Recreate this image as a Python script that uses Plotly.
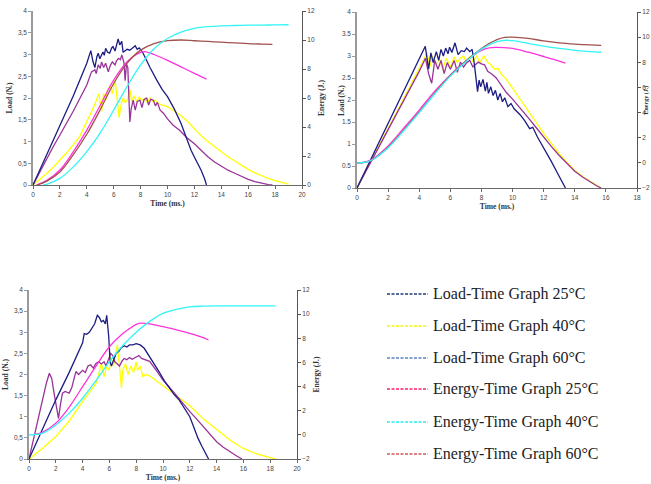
import plotly.graph_objects as go

# ---------------- data ----------------
# Plot 1 (top-left)
P1_NAVY_T = [0,1,2,3,4,4.3,4.45,4.6,4.75,4.85,4.97,5.1,5.2,5.3,5.4,5.55,5.7,5.85,5.95,6.1,6.2,6.33,6.45,6.6,6.7,6.85,7.0,7.2,7.4,7.6,7.75,7.9,8.15,8.3,8.7,9.2,9.6,10.0,10.5,11.0,11.4,11.75,12.1,12.5,12.75,12.9]
P1_NAVY_L = [0,0.68,1.36,2.05,2.8,3.09,2.85,2.7,2.95,3.03,2.9,3.0,3.06,2.98,3.14,3.05,3.03,3.15,3.18,3.08,3.2,3.36,3.22,3.3,3.05,3.08,3.12,3.1,3.16,3.2,3.12,3.15,3.05,2.95,2.7,2.41,2.2,2.03,1.75,1.42,1.1,0.8,0.58,0.34,0.15,0.0]

P1_PURP_T = [0,0.5,1,1.5,2,2.5,3,3.5,4,4.35,4.6,4.7,4.85,5.0,5.1,5.25,5.4,5.6,5.75,5.9,6.1,6.2,6.35,6.5,6.6,6.77,6.85,6.95,7.05,7.2,7.3,7.45,7.6,7.75,7.95,8.1,8.25,8.45,8.6,8.75,8.95,9.1,9.25,9.45,9.7,10.0,10.4,10.9,11.4,12.0,12.5,13.0,13.5,14.0,14.5,15.0,15.5,16.0,16.5,17.0,17.5,17.8]
P1_PURP_L = [0,0.3,0.6,0.88,1.15,1.42,1.7,2.0,2.3,2.6,2.65,2.56,2.76,2.68,2.83,2.7,2.8,2.6,2.75,2.83,2.76,2.85,2.91,2.88,2.99,2.8,2.4,2.78,2.7,1.45,1.75,1.95,1.72,1.92,1.95,1.78,1.96,2.0,1.84,1.97,1.95,1.82,1.9,1.72,1.65,1.52,1.38,1.26,1.1,0.95,0.8,0.65,0.53,0.43,0.34,0.27,0.2,0.13,0.08,0.04,0.01,0.0]

P1_YELL_T = [0,0.5,1,1.5,2,2.5,3,3.5,4,4.5,4.9,5.1,5.25,5.4,5.55,5.75,5.9,6.1,6.25,6.4,6.55,6.7,6.85,7.0,7.2,7.35,7.5,7.7,7.9,8.1,8.3,8.5,8.7,8.9,9.1,9.3,9.5,10.0,10.5,11.0,11.5,12.0,12.5,13.0,13.5,14.0,14.5,15.0,15.5,16.0,16.5,17.0,17.5,18.0,18.5,19.0]
P1_YELL_L = [0,0.12,0.26,0.41,0.57,0.74,0.93,1.13,1.46,1.78,2.1,1.69,2.1,1.95,2.2,2.26,2.1,2.41,2.0,1.55,1.85,2.0,1.9,1.95,2.2,1.9,2.05,1.92,2.02,1.95,1.98,1.9,2.0,1.92,1.95,1.88,1.85,1.8,1.7,1.6,1.46,1.3,1.13,1.0,0.88,0.76,0.65,0.55,0.45,0.36,0.28,0.21,0.15,0.1,0.06,0.02]

P1_MAG_T = [0.25,1,2,3,4,5,6,7,7.5,8,8.3,9,10,11,12,12.9]
P1_MAG_E = [0,0.3,1.03,2.3,3.79,5.5,7.24,8.5,8.9,9.15,9.2,9.0,8.6,8.15,7.7,7.3]
P1_BRN_T = [0.3,1,2,3,4,5,6,7,8,9,10,11,12,13,14,15,16,17,17.8]
P1_BRN_E = [0,0.25,0.9,2.1,3.5,5.2,7.0,8.4,9.3,9.75,9.95,10.0,9.95,9.9,9.85,9.8,9.75,9.72,9.7]
P1_CYN_T = [0.75,1,2,3,4,5,6,7,8,9,10,11,12,13,14,15,16,17,18,19]
P1_CYN_E = [0,0.05,0.46,1.25,2.3,3.6,5.17,6.8,8.28,9.4,10.1,10.55,10.8,10.92,10.98,11.0,11.02,11.03,11.04,11.05]

# Plot 2 (top-right)
P2_NAVY_T = [0,1,2,3,4,4.39,4.6,4.75,4.9,5.1,5.25,5.4,5.55,5.7,5.85,5.95,6.1,6.3,6.5,6.7,6.9,7.05,7.25,7.4,7.55,7.75,7.85,7.95,8.1,8.25,8.35,8.45,8.6,8.75,8.9,9.05,9.2,9.35,9.5,9.7,9.9,10.1,10.5,10.8,11.1,11.3,11.6,11.9,12.2,12.5,12.9,13.2,13.4]
P2_NAVY_L = [0,0.73,1.46,2.2,2.93,3.22,2.7,3.07,2.85,3.1,2.9,3.15,3.0,3.18,3.05,3.2,3.08,3.3,3.03,3.12,3.1,3.18,3.1,3.15,2.8,2.19,2.45,2.3,2.47,2.2,2.4,2.15,2.3,2.1,2.22,2.0,2.15,1.96,2.05,1.85,1.92,1.8,1.66,1.52,1.35,1.38,1.16,0.98,0.78,0.6,0.33,0.12,0.0]

P2_YELL_T = [0,1,2,3,4,4.5,4.7,4.85,5.1,5.3,5.5,5.75,6.0,6.25,6.45,6.65,6.85,7.05,7.25,7.45,7.7,7.9,8.15,8.4,8.6,8.85,9.05,9.3,9.6,10,10.5,11,11.5,12,12.5,13,13.5,14,14.5,15,15.4,15.7]
P2_YELL_L = [0,0.67,1.35,2.03,2.72,3.07,2.76,3.0,2.8,2.95,2.7,2.95,2.75,2.98,2.85,2.95,3.0,2.85,3.0,2.88,3.0,2.85,3.0,2.86,2.8,2.7,2.72,2.58,2.47,2.27,2.02,1.77,1.5,1.24,1.0,0.78,0.58,0.4,0.26,0.14,0.06,0.0]

P2_PURP_T = [0,1,2,3,4,4.4,4.6,4.8,5.0,5.2,5.4,5.6,5.8,6.0,6.25,6.45,6.65,6.85,7.05,7.25,7.45,7.6,7.8,8.0,8.2,8.4,8.7,8.95,9.3,9.6,10,10.5,11,11.5,12,12.5,13,13.5,14,14.5,15,15.4,15.7]
P2_PURP_L = [0,0.66,1.32,1.98,2.65,2.95,2.6,2.38,2.9,2.7,2.9,2.6,2.85,2.7,2.9,2.63,2.86,2.75,2.85,2.9,2.75,2.8,2.86,2.82,2.8,2.65,2.58,2.5,2.33,2.17,2.02,1.82,1.6,1.38,1.15,0.94,0.74,0.56,0.38,0.25,0.13,0.05,0.0]

P2_MAG_T = [0,0.5,1,2,3,4,5,6,7,8,8.5,9,10,11,12,13,13.4]
P2_MAG_E = [0,0.05,0.3,1.35,2.75,4.2,5.7,7.0,8.1,8.95,9.15,9.18,9.1,8.8,8.46,8.1,7.93]
P2_BRN_T = [0,0.5,1,2,3,4,5,6,7,8,9,9.5,10,11,12,13,14,15,15.7]
P2_BRN_E = [0,0.04,0.25,1.25,2.6,4.05,5.55,6.95,8.1,9.1,9.8,9.98,10.0,9.9,9.7,9.55,9.45,9.38,9.35]
P2_CYN_T = [0,0.5,1,2,3,4,5,6,7,8,9,9.5,10,11,12,13,14,15,15.7]
P2_CYN_E = [0,0.04,0.25,1.2,2.55,4.0,5.5,6.9,8.05,9.05,9.65,9.75,9.72,9.5,9.28,9.1,8.95,8.85,8.8]

# Plot 3 (bottom-left)
P3_NAVY_T = [0,1,2,3,3.5,4,4.12,4.3,4.5,4.7,4.9,5.1,5.25,5.4,5.55,5.7,5.8,5.95,6.05,6.15,6.3,6.5,6.7,6.85,7.1,7.3,7.5,7.75,8.0,8.3,8.6,9.0,9.35,9.7,10.1,10.5,10.85,11.2,11.6,12.0,12.3,12.6,12.9,13.2,13.4]
P3_NAVY_L = [0,0.7,1.4,2.05,2.4,2.75,2.97,2.95,3.0,3.1,3.2,3.4,3.35,3.25,3.28,3.2,3.4,2.9,2.3,2.2,2.35,2.5,2.55,2.62,2.68,2.65,2.7,2.7,2.73,2.7,2.62,2.43,2.25,2.07,1.85,1.67,1.52,1.4,1.2,1.0,0.75,0.5,0.3,0.12,0.0]

P3_PURP_T = [0,0.5,1.0,1.3,1.52,1.7,1.9,2.2,2.35,2.5,2.7,3.0,3.2,3.5,3.7,4.0,4.2,4.4,4.6,4.8,5.0,5.2,5.4,5.6,5.75,5.95,6.1,6.25,6.4,6.6,6.75,6.95,7.1,7.3,7.5,7.7,8.0,8.2,8.4,8.7,9.0,9.5,10.0,10.75,11.5,12.0,12.5,13.0,13.5,14.0,14.5,15.0,15.5,15.9]
P3_PURP_L = [0,0.7,1.4,1.8,2.03,1.9,1.5,0.96,1.3,1.56,1.6,1.56,1.7,2.07,2.0,2.1,2.05,2.2,2.23,2.15,2.26,2.3,2.25,2.3,2.2,2.35,2.5,2.45,2.3,2.25,2.2,2.32,2.38,2.35,2.4,2.36,2.42,2.45,2.38,2.35,2.31,2.1,1.87,1.6,1.3,1.12,0.95,0.77,0.6,0.41,0.28,0.17,0.07,0.0]

P3_YELL_T = [0,1,2,3,4,4.5,5.0,5.2,5.4,5.6,5.8,6.0,6.1,6.3,6.5,6.6,6.75,6.9,7.0,7.2,7.4,7.6,7.8,8.0,8.1,8.3,8.5,8.7,9.0,9.5,10,11,12,13,14,15,16,17,18,18.4]
P3_YELL_L = [0,0.25,0.53,0.9,1.36,1.57,1.79,2.0,2.27,1.95,2.2,2.1,2.41,2.2,2.5,2.7,2.2,1.68,2.1,2.25,2.0,2.2,2.05,2.3,2.1,2.2,1.95,2.0,1.97,1.85,1.75,1.5,1.26,0.95,0.7,0.45,0.25,0.12,0.03,0.0]

P3_MAG_T = [0.5,1,2,3,4,5,6,7,7.5,8,8.3,9,10,11,12,13,13.4]
P3_MAG_E = [0.05,0.2,0.96,2.3,3.99,5.7,7.3,8.4,8.8,9.15,9.25,9.2,8.96,8.7,8.4,8.05,7.86]
P3_CYN_T = [0,0.5,1,2,3,4,5,6,7,8,9,10,11,12,13,14,15,16,17,18,18.4]
P3_CYN_E = [0.0,0.03,0.13,0.82,1.8,3.03,4.5,6.05,7.4,8.5,9.4,10.07,10.4,10.6,10.66,10.68,10.68,10.68,10.68,10.68,10.68]

# tick labels
LOAD_TICKS = [0,0.5,1,1.5,2,2.5,3,3.5,4]
LOAD_TEXT_COMMA = ["0","0,5","1","1,5","2","2,5","3","3,5","4"]
LOAD_TEXT_DOT = ["0","0.5","1","1.5","2","2.5","3","3.5","4"]

# legend (custom)
LEGEND_NAMES = ["Load-Time Graph 25°C","Load-Time Graph 40°C","Load-Time Graph 60°C",
                "Energy-Time Graph 25°C","Energy-Time Graph 40°C","Energy-Time Graph 60°C"]
LEGEND_COLORS = ["#1f3d7a","#f5f500","#5a82c8","#ff1f6e","#22eeee","#cc5a5a"]

# ---------------- styles ----------------
NAVY = "#1c1c84"
YELL = "#ffff00"
PURP = "#993399"
MAG = "#ff33dd"
BRN = "#a0524f"
CYN = "#33f5f5"

fig = go.Figure()

def add(t, v, color, xa, ya, smooth=False):
    fig.add_trace(go.Scatter(x=t, y=v, mode="lines", xaxis=xa, yaxis=ya,
                             line=dict(color=color, width=1.3,
                                       shape="spline" if smooth else "linear"),
                             showlegend=False, hoverinfo="skip"))

# plot 1
add(P1_MAG_T, P1_MAG_E, MAG, "x", "y2", True)
add(P1_BRN_T, P1_BRN_E, BRN, "x", "y2", True)
add(P1_CYN_T, P1_CYN_E, CYN, "x", "y2", True)
add(P1_YELL_T, P1_YELL_L, YELL, "x", "y")
add(P1_PURP_T, P1_PURP_L, PURP, "x", "y")
add(P1_NAVY_T, P1_NAVY_L, NAVY, "x", "y")
# plot 2
add(P2_MAG_T, P2_MAG_E, MAG, "x2", "y4", True)
add(P2_BRN_T, P2_BRN_E, BRN, "x2", "y4", True)
add(P2_CYN_T, P2_CYN_E, CYN, "x2", "y4", True)
add(P2_YELL_T, P2_YELL_L, YELL, "x2", "y3")
add(P2_PURP_T, P2_PURP_L, PURP, "x2", "y3")
add(P2_NAVY_T, P2_NAVY_L, NAVY, "x2", "y3")
# plot 3
add(P3_MAG_T, P3_MAG_E, MAG, "x3", "y6", True)
add(P3_CYN_T, P3_CYN_E, CYN, "x3", "y6", True)
add(P3_YELL_T, P3_YELL_L, YELL, "x3", "y5")
add(P3_PURP_T, P3_PURP_L, PURP, "x3", "y5")
add(P3_NAVY_T, P3_NAVY_L, NAVY, "x3", "y5")

W, H = 651, 484
def px(x): return x / W
def py(y): return 1 - y / H

TICKFONT = dict(family="Liberation Sans, Arial", size=6.5, color="#444444")
TITLEFONT = dict(family="Liberation Serif, Times New Roman", size=7.5, color="#333333")

def xax(domain, anchor, rng, title_standoff=3):
    return dict(domain=domain, anchor=anchor, range=rng, dtick=2, tick0=0,
                automargin=False,
                showline=True, linecolor="#6a6a6a", linewidth=1, ticks="outside",
                ticklen=3, tickcolor="#6a6a6a", tickfont=TICKFONT, showgrid=False,
                zeroline=False, title=dict(text="<b>Time (ms.)</b>", font=TITLEFONT,
                                           standoff=title_standoff))

def yleft(domain, anchor, ticktext, title="<b>Load (N.)</b>"):
    return dict(domain=domain, anchor=anchor, range=[0, 4], tickvals=LOAD_TICKS,
                automargin=False,
                ticktext=ticktext, showline=True, linecolor="#9a9a9a", linewidth=1.5,
                ticks="outside", ticklen=3, tickcolor="#9a9a9a", tickfont=TICKFONT,
                showgrid=False, zeroline=False,
                title=dict(text=title, font=TITLEFONT, standoff=4))

def yright(overlay, anchor, rng, title="<b>Energy (J.)</b>"):
    return dict(overlaying=overlay, anchor=anchor, side="right", range=rng, dtick=2,
                automargin=False,
                tick0=0, showline=True, linecolor="#555555", linewidth=1,
                ticks="outside", ticklen=3, tickcolor="#555555", tickfont=TICKFONT,
                showgrid=False, zeroline=False,
                title=dict(text=title, font=TITLEFONT, standoff=4))

shapes = []
annotations = []
LEG_ROWS = [294, 326, 358, 389, 422, 454]
for i, (name, col) in enumerate(zip(LEGEND_NAMES, LEGEND_COLORS)):
    y = py(LEG_ROWS[i])
    shapes.append(dict(type="line", xref="paper", yref="paper", x0=px(387), x1=px(428),
                       y0=y, y1=y, line=dict(color=col, width=1.5, dash="3px,1.5px")))
    annotations.append(dict(xref="paper", yref="paper", x=px(431), y=y, text=name,
                            showarrow=False, xanchor="left", yanchor="middle",
                            font=dict(family="Liberation Serif, Times New Roman",
                                      size=16, color="#222222")))

# plot 2 axis titles placed as annotations (kept inside the canvas)
annotations.append(dict(xref="paper", yref="paper", x=px(342), y=py(100),
                        text="<b>Load (N.)</b>", textangle=-90, showarrow=False,
                        xanchor="center", yanchor="middle", font=TITLEFONT))
annotations.append(dict(xref="paper", yref="paper", x=px(646.5), y=py(100),
                        text="<b>Energy (J.)</b>", textangle=-90, showarrow=False,
                        xanchor="center", yanchor="middle", borderpad=0,
                        font=dict(family="Liberation Serif, Times New Roman",
                                  size=6, color="#333333")))

fig.update_layout(
    width=W, height=H, margin=dict(l=0, r=0, t=0, b=0, autoexpand=False),
    paper_bgcolor="white", plot_bgcolor="white", showlegend=False,
    xaxis=xax([px(33), px(302)], "y", [0, 20]),
    yaxis=yleft([py(185), py(11)], "x", LOAD_TEXT_COMMA),
    yaxis2=yright("y", "x", [0, 12]),
    xaxis2=xax([px(357), px(637)], "y3", [0, 18]),
    yaxis3=yleft([py(188), py(12)], "x2", LOAD_TEXT_DOT, title=""),
    yaxis4=yright("y3", "x2", [-2, 12], title=""),
    xaxis3=xax([px(29), px(297)], "y5", [0, 20]),
    yaxis5=yleft([py(459), py(290)], "x3", LOAD_TEXT_COMMA),
    yaxis6=yright("y5", "x3", [-2, 12]),
    shapes=shapes, annotations=annotations,
)

fig.write_html("out.html")
